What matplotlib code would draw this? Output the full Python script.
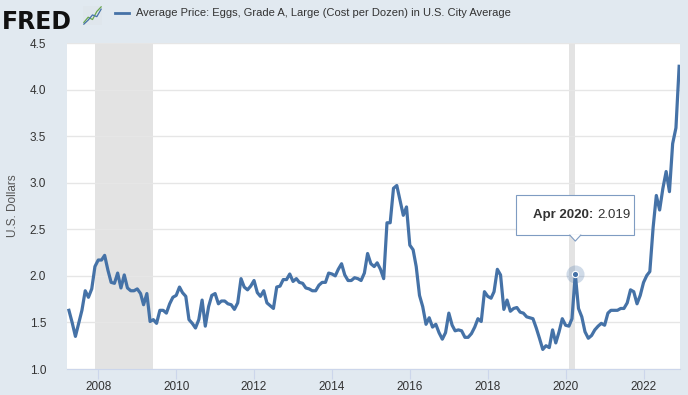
import numpy as np
import pandas as pd
import matplotlib
matplotlib.use("Agg")
import matplotlib.pyplot as plt
import matplotlib.dates as mdates
from matplotlib import transforms
from matplotlib.patches import Rectangle, Polygon

plt.rcParams['font.family'] = ['Liberation Sans', 'DejaVu Sans']

# Average price, eggs grade A large, per dozen (monthly, Apr 2007 - Dec 2022)
v2007 = [1.63, 1.50, 1.35, 1.49, 1.63, 1.84, 1.77, 1.86, 2.10]
v2008 = [2.17, 2.17, 2.22, 2.06, 1.93, 1.92, 2.03, 1.87, 2.01, 1.87, 1.84, 1.84]
v2009 = [1.86, 1.81, 1.69, 1.81, 1.51, 1.53, 1.49, 1.63, 1.63, 1.60, 1.70, 1.77]
v2010 = [1.79, 1.88, 1.82, 1.78, 1.53, 1.49, 1.44, 1.53, 1.74, 1.46, 1.67, 1.79]
v2011 = [1.81, 1.70, 1.73, 1.73, 1.70, 1.69, 1.64, 1.71, 1.97, 1.88, 1.85, 1.89]
v2012 = [1.95, 1.82, 1.78, 1.84, 1.71, 1.68, 1.65, 1.88, 1.89, 1.96, 1.96, 2.02]
v2013 = [1.94, 1.97, 1.93, 1.92, 1.87, 1.86, 1.84, 1.84, 1.90, 1.93, 1.93, 2.03]
v2014 = [2.02, 2.00, 2.07, 2.13, 2.01, 1.95, 1.95, 1.98, 1.97, 1.95, 2.03, 2.24]
v2015 = [2.13, 2.10, 2.14, 2.07, 1.97, 2.57, 2.57, 2.94, 2.97, 2.81, 2.65, 2.74]
v2016 = [2.33, 2.28, 2.10, 1.79, 1.67, 1.48, 1.55, 1.45, 1.48, 1.39, 1.32, 1.39]
v2017 = [1.60, 1.47, 1.41, 1.42, 1.41, 1.34, 1.34, 1.38, 1.45, 1.54, 1.51, 1.83]
v2018 = [1.78, 1.76, 1.83, 2.07, 2.01, 1.64, 1.74, 1.62, 1.65, 1.66, 1.61, 1.60]
v2019 = [1.56, 1.55, 1.54, 1.44, 1.33, 1.21, 1.25, 1.23, 1.42, 1.28, 1.40, 1.54]
v2020 = [1.47, 1.46, 1.54, 2.019, 1.65, 1.56, 1.40, 1.33, 1.36, 1.42, 1.46, 1.49]
v2021 = [1.47, 1.60, 1.63, 1.63, 1.63, 1.65, 1.65, 1.71, 1.85, 1.83, 1.70, 1.79]
v2022 = [1.929, 2.005, 2.046, 2.520, 2.863, 2.707, 2.936, 3.120, 2.904, 3.419, 3.589, 4.250]

values = (v2007 + v2008 + v2009 + v2010 + v2011 + v2012 + v2013 + v2014 + v2015
          + v2016 + v2017 + v2018 + v2019 + v2020 + v2021 + v2022)
dates = pd.date_range("2007-04-01", periods=len(values), freq="MS")

recessions = [("2007-12-01", "2009-06-01"), ("2020-02-01", "2020-04-01")]
y_ticks = [1.0, 1.5, 2.0, 2.5, 3.0, 3.5, 4.0, 4.5]
x_years = [2008, 2010, 2012, 2014, 2016, 2018, 2020, 2022]
title = "Average Price: Eggs, Grade A, Large (Cost per Dozen) in U.S. City Average"
hover_date = "2020-04-01"
hover_label = "Apr 2020:"
hover_value = 2.019

bg = "#e1e9f0"
line_col = "#4572a7"
tip_edge = "#7f9cc2"

fig = plt.figure(figsize=(6.88, 3.95), dpi=100, facecolor=bg)
ax = fig.add_axes([67 / 688, 26 / 395, 613 / 688, 326 / 395])
ax.set_facecolor("white")

for start, end in recessions:
    ax.axvspan(pd.Timestamp(start), pd.Timestamp(end), color="#e3e3e3", lw=0, zorder=0)

ax.plot(dates, values, color=line_col, lw=2.3, zorder=3, solid_joinstyle="round")

ax.set_ylim(1.0, 4.5)
ax.set_yticks(y_ticks)
ax.set_yticklabels([f"{t:.1f}" for t in y_ticks])
ax.grid(axis="y", color="#e6e6e6", lw=1, zorder=1)
ax.set_xlim(dates[0] - pd.Timedelta(days=18), dates[-1] + pd.Timedelta(days=8))
ax.set_xticks([pd.Timestamp(f"{y}-01-01") for y in x_years])
ax.xaxis.set_major_formatter(mdates.DateFormatter("%Y"))

for s in ["left", "right", "top"]:
    ax.spines[s].set_visible(False)
ax.spines["bottom"].set_color("#ccd6eb")
ax.tick_params(axis="y", length=0, pad=15, labelsize=8.5, labelcolor="#333333")
ax.tick_params(axis="x", length=7, color="#ccd6eb", pad=2, labelsize=8.5, labelcolor="#333333")
ax.set_ylabel("U.S. Dollars", fontsize=8.5, color="#555555", labelpad=8)

# hover marker + tooltip (box placed in inches relative to the hovered point)
hx = pd.Timestamp(hover_date)
ax.plot([hx], [hover_value], "o", ms=13, color=line_col, alpha=0.25, mec="none", zorder=4)
ax.plot([hx], [hover_value], "o", ms=4.5, color=line_col, mec="white", mew=0.8, zorder=5)
anchor = fig.dpi_scale_trans + transforms.ScaledTranslation(
    mdates.date2num(hx), hover_value, ax.transData)
box = Rectangle((-0.59, 0.39), 1.18, 0.40, transform=anchor, fc="white", ec=tip_edge,
                lw=0.8, zorder=6, clip_on=False)
ax.add_patch(box)
notch = Polygon([(-0.055, 0.392), (0.055, 0.392), (0, 0.33)], closed=True,
                transform=anchor, fc="white", ec="none", zorder=7, clip_on=False)
ax.add_patch(notch)
ax.plot([-0.055, 0, 0.055], [0.39, 0.33, 0.39], color=tip_edge, lw=0.8,
        transform=anchor, zorder=7, clip_on=False)
ax.annotate(hover_label, xy=(hx, hover_value), xytext=(13, 42.5),
            textcoords="offset points", ha="right", va="center", fontsize=9.5,
            color="#333333", fontweight="bold", zorder=8)
ax.annotate(f"{hover_value:.3f}", xy=(hx, hover_value), xytext=(15.5, 42.5),
            textcoords="offset points", ha="left", va="center", fontsize=9.5,
            color="#333333", zorder=8)

# header: FRED logo, icon, legend
fig.text(0.003, 0.975, "FRED", fontsize=17, fontweight="heavy", color="#111111",
         va="top", ha="left", family="DejaVu Sans")
icon = fig.add_axes([83 / 688, (395 - 25) / 395, 19 / 688, 19 / 395])
icon.set_facecolor("#dfe6ec")
icon.plot([0, 1, 2, 3, 4], [0.5, 1.4, 1.0, 2.4, 3.2], color="#6aa84f", lw=0.9)
icon.plot([0, 1, 2, 3, 4], [0.2, 0.9, 1.8, 1.5, 2.8], color="#4572a7", lw=0.9)
icon.set_xticks([])
icon.set_yticks([])
for s in icon.spines.values():
    s.set_visible(False)
fig.add_artist(plt.Line2D([115 / 688, 129 / 688], [1 - 13 / 395, 1 - 13 / 395],
                          color=line_col, lw=2))
fig.text(136 / 688, 1 - 13 / 395, title, fontsize=8, color="#333333", va="center",
         ha="left")

fig.savefig("out.png", dpi=100, facecolor=bg)
